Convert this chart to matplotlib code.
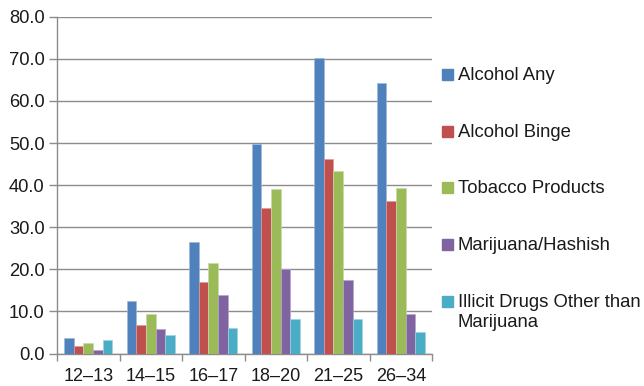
import matplotlib
matplotlib.use("Agg")
import matplotlib.pyplot as plt
from matplotlib.patches import Rectangle
import numpy as np

plt.rcParams['font.family'] = ['Liberation Sans', 'DejaVu Sans']

age_groups = ["12\u201313", "14\u201315", "16\u201317", "18\u201320", "21\u201325", "26\u201334"]
series_names = ["Alcohol Any", "Alcohol Binge", "Tobacco Products",
                "Marijuana/Hashish", "Illicit Drugs Other than\nMarijuana"]
alcohol_any = [3.6, 12.4, 26.4, 49.8, 70.3, 64.2]
alcohol_binge = [1.7, 6.7, 16.9, 34.5, 46.3, 36.3]
tobacco = [2.4, 9.3, 21.5, 39.1, 43.4, 39.4]
marijuana = [0.8, 5.9, 13.9, 20.0, 17.5, 9.3]
illicit_other = [3.3, 4.4, 6.1, 8.3, 8.3, 5.1]
y_ticks = [0, 10, 20, 30, 40, 50, 60, 70, 80]

colors = ["#4F81BD", "#C0504D", "#9BBB59", "#8064A2", "#4BACC6"]
edges = ["#9DB8DA", "#DC9C9A", "#C9DAA8", "#B5A5CA", "#9CD3E2"]
all_series = [alcohol_any, alcohol_binge, tobacco, marijuana, illicit_other]

W, H = 644, 386
fig = plt.figure(figsize=(W / 100, H / 100), dpi=100)
ax = fig.add_axes([57 / W, 1 - 353.5 / H, 375 / W, 336.8 / H])

x = np.arange(len(age_groups))
w = 0.155
for i, (vals, c, ec) in enumerate(zip(all_series, colors, edges)):
    ax.bar(x + (i - 2) * w, vals, width=w, color=c, edgecolor=ec,
           linewidth=0.5, zorder=3)

ax.set_xlim(-0.5, len(age_groups) - 0.5)
ax.set_ylim(0, 80)
ax.set_yticks(y_ticks)
ax.set_yticklabels([f"{v:.1f}" for v in y_ticks])
ax.yaxis.grid(True, color="#8C8C8C", linewidth=1.0, zorder=0)
ax.set_axisbelow(True)

ax.set_xticks(x)
ax.set_xticklabels(age_groups)
ax.set_xticks(np.arange(-0.5, len(age_groups)), minor=True)
ax.tick_params(axis='x', which='major', length=0, pad=10.5, labelsize=13, colors="#1a1a1a")
ax.tick_params(axis='x', which='minor', length=5, width=1, color="#8C8C8C")
ax.tick_params(axis='y', length=6, width=1, color="#8C8C8C", pad=3,
               labelsize=13.2, labelcolor="#1a1a1a")

for s in ("top", "right"):
    ax.spines[s].set_visible(False)
for s in ("left", "bottom"):
    ax.spines[s].set_color("#8C8C8C")
    ax.spines[s].set_linewidth(1.0)

# Legend: colour squares with labels to the right of the plot
square_bottom = [80, 136.7, 193.3, 250, 306.7]
for name, c, yb in zip(series_names, colors, square_bottom):
    fig.add_artist(Rectangle((442 / W, 1 - yb / H), 11 / W, 11 / H,
                             transform=fig.transFigure, color=c))
    for k, line in enumerate(name.split("\n")):
        fig.text(458 / W, 1 - (yb + k * 20.5) / H, line, ha="left", va="baseline",
                 fontsize=13.3, color="#1a1a1a")

fig.savefig("out.png", dpi=100)
